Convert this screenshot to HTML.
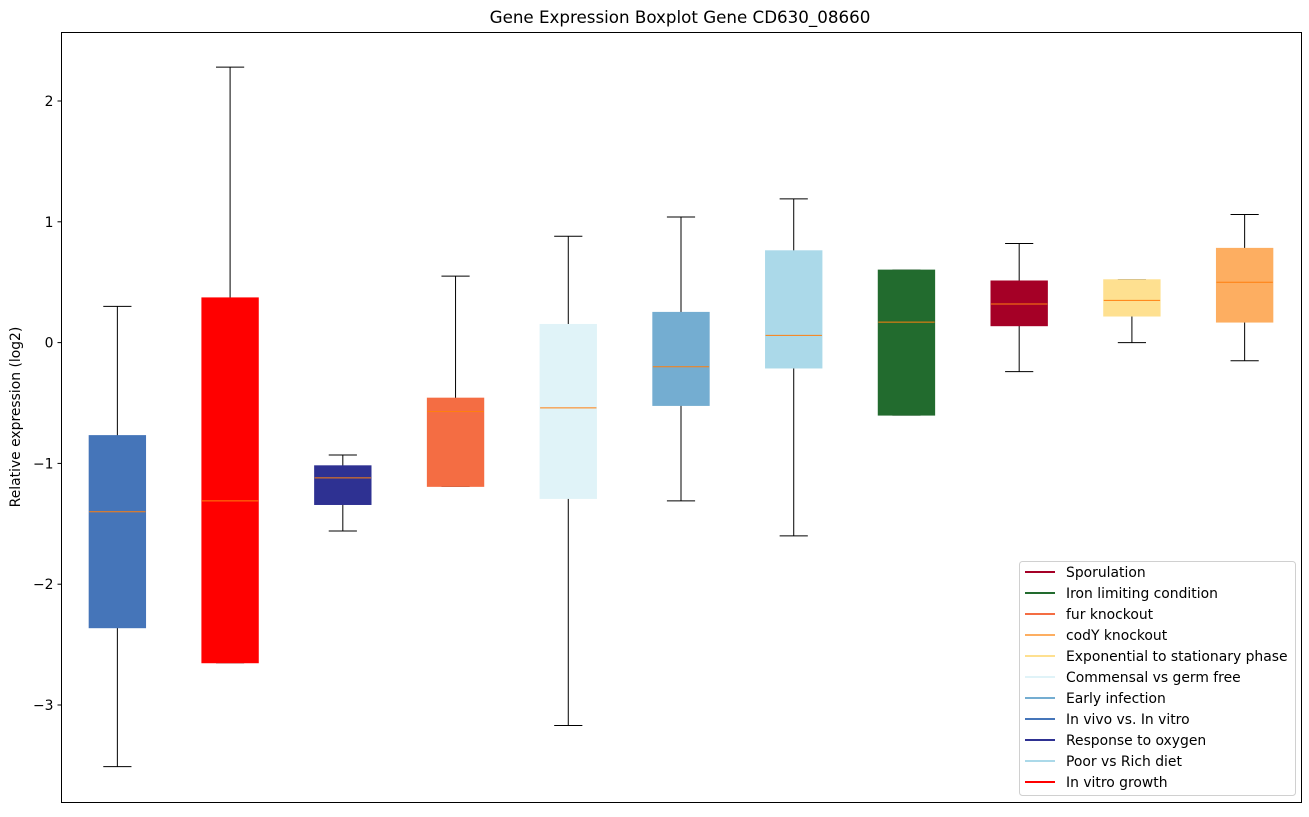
<!DOCTYPE html>
<html><head><meta charset="utf-8"><style>
body{margin:0;background:#fff;}
svg text{font-family:"DejaVu Sans","Liberation Sans",sans-serif;fill:#000;}
</style></head><body>
<svg id="chart" width="1309" height="812" xmlns="http://www.w3.org/2000/svg">
<rect x="0" y="0" width="1309" height="812" fill="#fff"/>
<text x="680" y="23" font-size="16.7" text-anchor="middle">Gene Expression Boxplot Gene CD630_08660</text>
<text transform="translate(20,417) rotate(-90)" font-size="13.9" text-anchor="middle">Relative expression (log2)</text>
<g id="yticks"></g>
<g id="boxes"></g>
<rect x="61.5" y="32.5" width="1240" height="770" fill="none" stroke="#000" stroke-width="1"/>
<g id="legend"></g>
</svg>
<script>
const lows = [-3.51,-2.65,-1.56,-1.19,-3.17,-1.31,-1.60,-0.60,-0.24,0.00,-0.15];
const q1s = [-2.36,-2.65,-1.34,-1.19,-1.29,-0.52,-0.21,-0.60,0.14,0.22,0.17];
const medians = [-1.40,-1.31,-1.12,-0.57,-0.54,-0.20,0.06,0.17,0.32,0.35,0.50];
const q3s = [-0.77,0.37,-1.02,-0.46,0.15,0.25,0.76,0.60,0.51,0.52,0.78];
const highs = [0.30,2.28,-0.93,0.55,0.88,1.04,1.19,0.60,0.82,0.52,1.06];
const boxColors = ["#4575b9","#ff0000","#2e3192","#f46d43","#e0f3f8","#74add1","#abd9e9","#226b2e","#a50026","#fee090","#fdae61"];
const yTicks = [2,1,0,-1,-2,-3];
const yTickLabels = ["2","1","0","\u22121","\u22122","\u22123"];
const legendLabels = ["Sporulation","Iron limiting condition","fur knockout","codY knockout","Exponential to stationary phase","Commensal vs germ free","Early infection","In vivo vs. In vitro","Response to oxygen","Poor vs Rich diet","In vitro growth"];
const legendColors = ["#a50026","#226b2e","#f46d43","#fdae61","#fee090","#e0f3f8","#74add1","#4575b9","#2e3192","#abd9e9","#ff0000"];

const NS="http://www.w3.org/2000/svg";
const X0=61.5,X1=1301.5,Y0=32.5,Y1=802.5;
const xMin=0.5,xMax=lows.length+0.5,yMin=-3.807,yMax=2.567;
function xs(v){return X0+(v-xMin)/(xMax-xMin)*(X1-X0);}
function ys(v){return Y1-(v-yMin)/(yMax-yMin)*(Y1-Y0);}
function mk(tag,attrs,parent){const e=document.createElementNS(NS,tag);for(const k in attrs)e.setAttribute(k,attrs[k]);parent.appendChild(e);return e;}

const gt=document.getElementById('yticks');
yTicks.forEach((t,i)=>{
  const y=ys(t);
  const l=mk('line',{x1:X0-4,x2:X0,y1:y,y2:y,stroke:'#000'},gt);
  
  
  const tx=mk('text',{x:X0-8,y:y+5,'font-size':13.9,'text-anchor':'end'},gt);
  tx.textContent=yTickLabels[i];
  
  
});

const gb=document.getElementById('boxes');
lows.forEach((lo,i)=>{
  const cx=xs(i+1)-0.5,hw=(xs(1.25)-xs(1));
  const g=mk('g',{},gb);
  
  
  mk('line',{x1:cx,x2:cx,y1:ys(lo),y2:ys(q1s[i]),stroke:'#000'},g);
  mk('line',{x1:cx,x2:cx,y1:ys(q3s[i]),y2:ys(highs[i]),stroke:'#000'},g);
  mk('line',{x1:cx-hw/2,x2:cx+hw/2,y1:ys(lo),y2:ys(lo),stroke:'#000'},g);
  mk('line',{x1:cx-hw/2,x2:cx+hw/2,y1:ys(highs[i]),y2:ys(highs[i]),stroke:'#000'},g);
  mk('rect',{x:cx-hw,y:ys(q3s[i]),width:2*hw,height:Math.max(1,ys(q1s[i])-ys(q3s[i])),fill:boxColors[i],stroke:boxColors[i]},g);
  mk('line',{x1:cx-hw,x2:cx+hw,y1:ys(medians[i]),y2:ys(medians[i]),stroke:'#ff7f0e'},g);
});

const gl=document.getElementById('legend');
const lb=mk('rect',{x:1019.5,y:561.5,width:276,height:234,rx:3,fill:'#fff','fill-opacity':0.8,stroke:'#d0d0d0'},gl);


legendLabels.forEach((lab,i)=>{
  const y=572+i*21;
  const g=mk('g',{},gl);
  
  
  mk('line',{x1:1025,x2:1055,y1:y,y2:y,stroke:legendColors[i],'stroke-width':2},g);
  const t=mk('text',{x:1066,y:y+5,'font-size':13.9},g);
  t.textContent=lab;
});
</script>
</body></html>
